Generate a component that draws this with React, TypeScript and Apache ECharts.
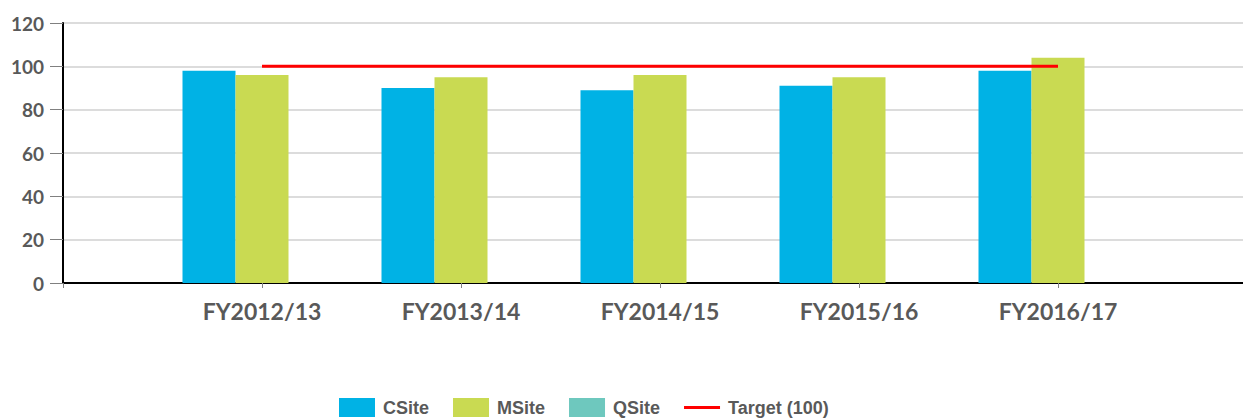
import React, { useEffect, useRef } from "react";
import * as echarts from "echarts";

const categories = ["", "FY2012/13", "FY2013/14", "FY2014/15", "FY2015/16", "FY2016/17", ""];
const cSite = ["-", 98, 90, 89, 91, 98, "-"];
const mSite = ["-", 96, 95, 96, 95, 104, "-"];
const qSite = ["-", "-", "-", "-", "-", "-", "-"];
const target = ["-", 100, 100, 100, 100, 100, "-"];
const yTicks = { min: 0, max: 120, interval: 20 };

export default function App() {
  const ref = useRef<HTMLDivElement>(null);
  useEffect(() => {
    if (!ref.current) return;
    const chart = echarts.init(ref.current, null, { renderer: "svg" });
    const labelColor = "#595959";
    chart.setOption({
      animation: false,
      grid: { left: 63, width: 1194, top: 23, bottom: 136, outerBoundsMode: "none", containLabel: false },
      legend: {
        left: 339,
        top: 398,
        padding: 0,
        itemWidth: 36,
        itemHeight: 19,
        itemGap: 24,
        textStyle: {
          fontFamily: "Liberation Sans",
          fontWeight: "bold",
          fontSize: 18,
          color: labelColor,
          padding: [0, 0, 0, 3],
        },
        data: [
          { name: "CSite", icon: "rect" },
          { name: "MSite", icon: "rect" },
          { name: "QSite", icon: "rect" },
          { name: "Target (100)", icon: "path://M0,0 L36,0 L36,3 L0,3 Z" },
        ],
      },
      xAxis: {
        type: "category",
        data: categories,
        boundaryGap: false,
        axisLine: { lineStyle: { color: "#000", width: 2 } },
        axisTick: { show: true, length: 5, lineStyle: { color: "#808080" } },
        axisLabel: {
          interval: 0,
          margin: 16,
          fontFamily: "Lato",
          fontWeight: "bold",
          fontSize: 23,
          color: labelColor,
        },
        splitLine: { show: false },
      },
      yAxis: {
        type: "value",
        min: yTicks.min,
        max: yTicks.max,
        interval: yTicks.interval,
        axisLine: { show: true, lineStyle: { color: "#000", width: 2 } },
        axisTick: { show: true, length: 13, lineStyle: { color: "#808080" } },
        axisLabel: {
          margin: 19,
          fontFamily: "Lato",
          fontWeight: "bold",
          fontSize: 19,
          color: labelColor,
        },
        splitLine: { lineStyle: { color: "#dcdcdc", width: 2 } },
      },
      series: [
        { name: "CSite", type: "bar", data: cSite, barWidth: 53, barGap: "0%", itemStyle: { color: "#00B2E5" } },
        { name: "MSite", type: "bar", data: mSite, barWidth: 53, barGap: "0%", itemStyle: { color: "#C9DA52" } },
        { name: "QSite", type: "bar", data: qSite, barWidth: 53, barGap: "0%", itemStyle: { color: "#6EC8BE" } },
        {
          name: "Target (100)",
          type: "line",
          data: target,
          symbol: "none",
          lineStyle: { color: "#FF0000", width: 3 },
          itemStyle: { color: "#FF0000" },
          z: 5,
        },
      ],
    });
    return () => chart.dispose();
  }, []);
  return (
    <div
      ref={ref}
      style={{ position: "absolute", left: 0, top: 0, width: 1243, height: 419 }}
    />
  );
}
